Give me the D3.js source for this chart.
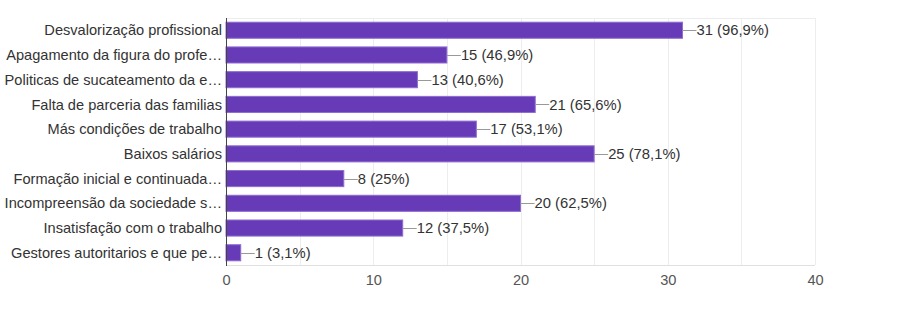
<!DOCTYPE html>
<html>
<head>
<meta charset="utf-8">
<script src="https://d3js.org/d3.v7.min.js"></script>
<style>
body { margin: 0; background: #fff; }
svg { font-family: "Liberation Sans", Arial, sans-serif; }
.cat { font-size: 14.6px; fill: #333; }
.val { font-size: 14.8px; fill: #333; }
.tick text { font-size: 14.6px; fill: #555; }
</style>
</head>
<body>
<script>
// dados do grafico
var categories = [
  "Desvalorização profissional",
  "Apagamento da figura do profe…",
  "Politicas de sucateamento da e…",
  "Falta de parceria das familias",
  "Más condições de trabalho",
  "Baixos salários",
  "Formação inicial e continuada…",
  "Incompreensão da sociedade s…",
  "Insatisfação com o trabalho",
  "Gestores autoritarios e que pe…"
];
var counts = [31, 15, 13, 21, 17, 25, 8, 20, 12, 1];
var percents = ["96,9%", "46,9%", "40,6%", "65,6%", "53,1%", "78,1%", "25%", "62,5%", "37,5%", "3,1%"];
var xTicks = [0, 10, 20, 30, 40];
var gridTicks = [5, 10, 15, 20, 25, 30, 35, 40];

var width = 903, height = 310;
var mLeft = 226, mRight = 815, mTop = 18, mBottom = 265;

var svg = d3.select("body").append("svg").attr("width", width).attr("height", height);

var x = d3.scaleLinear().domain([0, 40]).range([mLeft, mRight]);
var y = d3.scaleBand().domain(categories).range([mTop, mBottom]).paddingInner(0.35).paddingOuter(0.17);

// grade vertical
svg.selectAll("line.grid").data(gridTicks).enter().append("line")
  .attr("class", "grid")
  .attr("x1", function(d){ return Math.round(x(d)) + 0.5; })
  .attr("x2", function(d){ return Math.round(x(d)) + 0.5; })
  .attr("y1", mTop).attr("y2", mBottom)
  .attr("stroke", "#ededed");

// linha de cima e de baixo
svg.append("line").attr("x1", mLeft).attr("x2", mRight).attr("y1", mTop + 0.5).attr("y2", mTop + 0.5).attr("stroke", "#ededed");
svg.append("line").attr("x1", mLeft).attr("x2", mRight).attr("y1", mBottom + 0.5).attr("y2", mBottom + 0.5).attr("stroke", "#e0e0e0");

// barras
svg.selectAll("rect.bar").data(counts).enter().append("rect")
  .attr("class", "bar")
  .attr("x", x(0))
  .attr("y", function(d, i){ return y(categories[i]); })
  .attr("width", function(d){ return x(d) - x(0); })
  .attr("height", y.bandwidth())
  .attr("fill", "#673ab7")
  .attr("stroke", "#8e6bd0")
  .attr("stroke-width", 1);

// eixo vertical
svg.append("line").attr("x1", mLeft + 0.5).attr("x2", mLeft + 0.5).attr("y1", mTop).attr("y2", mBottom + 1).attr("stroke", "#444");

// rotulos das categorias
svg.selectAll("text.cat").data(categories).enter().append("text")
  .attr("class", "cat")
  .attr("x", mLeft - 4)
  .attr("y", function(d){ return y(d) + y.bandwidth() / 2; })
  .attr("dy", "0.35em")
  .attr("text-anchor", "end")
  .text(function(d){ return d; });

// linhas guia + valores
svg.selectAll("line.lead").data(counts).enter().append("line")
  .attr("class", "lead")
  .attr("x1", function(d){ return x(d); })
  .attr("x2", function(d){ return x(d) + 14; })
  .attr("y1", function(d, i){ return Math.round(y(categories[i]) + y.bandwidth() / 2) + 0.5; })
  .attr("y2", function(d, i){ return Math.round(y(categories[i]) + y.bandwidth() / 2) + 0.5; })
  .attr("stroke", "#999");

svg.selectAll("text.val").data(counts).enter().append("text")
  .attr("class", "val")
  .attr("x", function(d){ return x(d) + 14; })
  .attr("y", function(d, i){ return y(categories[i]) + y.bandwidth() / 2; })
  .attr("dy", "0.35em")
  .text(function(d, i){ return d + " (" + percents[i] + ")"; });

// eixo x
var xAxis = d3.axisBottom(x).tickValues(xTicks).tickSize(0).tickPadding(10);
var gx = svg.append("g").attr("transform", "translate(0," + mBottom + ")").call(xAxis);
gx.select(".domain").remove();
</script>
</body>
</html>
